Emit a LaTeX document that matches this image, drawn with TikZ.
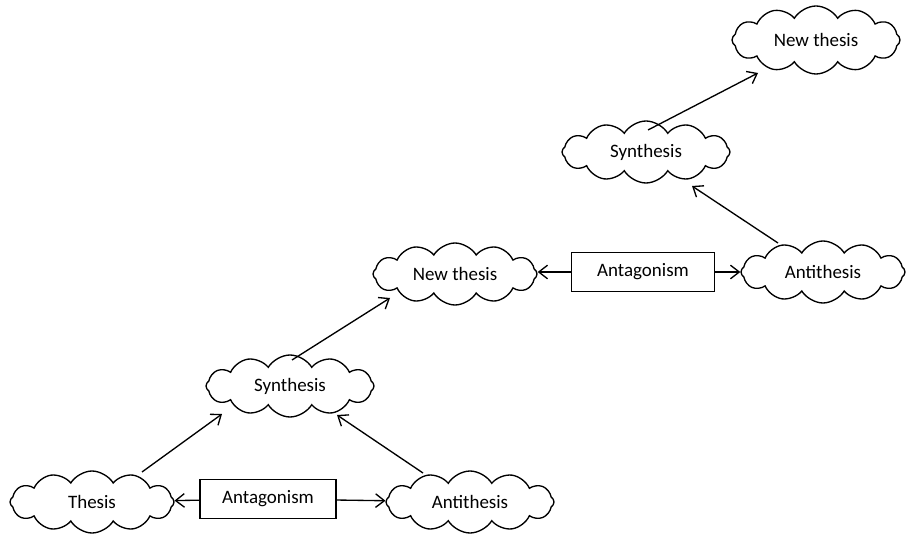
\documentclass[tikz,border=0pt]{standalone}
\usepackage{fontspec}
\setmainfont{Carlito}
\usetikzlibrary{shapes.symbols,arrows.meta,calc}

\begin{document}
\begin{tikzpicture}[
  idea/.style={cloud,cloud puffs=12,cloud puff arc=118,cloud ignores aspect,draw,line width=0.95pt,
    minimum width=4.1cm,minimum height=1.55cm,inner sep=0pt,font=\fontsize{13.5}{16}\selectfont},
  clash/.style={draw,line width=0.95pt,minimum width=3.4cm,minimum height=0.97cm,
    font=\fontsize{13.5}{16}\selectfont},
  link/.style={line width=0.95pt,-{Straight Barb[length=2.2mm,width=3.4mm]}}]
\useasboundingbox (0,0) rectangle (22.7,13.45);

% First round
\node[idea] (thesis) at (2.3,0.9) {Thesis};
\node[idea,minimum width=4.2cm] (anti1) at (11.75,0.9) {Antithesis};
\node[clash] (clash1) at (6.7,0.975) {Antagonism};
\node[idea,minimum width=4.2cm] (syn1) at (7.25,3.8) {Synthesis};

% Second round
\node[idea] (new1) at (11.375,6.6) {New thesis};
\node[clash,minimum width=3.58cm] (clash2) at (16.075,6.65) {Antagonism};
\node[idea] (anti2) at (20.575,6.65) {Antithesis};
\node[idea,minimum width=4.2cm] (syn2) at (16.15,9.65) {Synthesis};
\node[idea,minimum width=4.2cm,minimum height=1.7cm] (new2) at (20.4,12.45) {New thesis};

% Connectors
\draw[link] (clash1) -- (thesis);
\draw[link] (clash1) -- (anti1);
\draw[link] ($(thesis)+(1.25,0.75)$) -- ($(syn1)+(-1.7,-0.7)$);
\draw[link] ($(anti1)+(-1.175,0.725)$) -- ($(syn1)+(1.175,-0.725)$);
\draw[link] ($(syn1)+(0.05,0.65)$) -- ($(new1)+(-1.625,-0.6)$);
\draw[link] (clash2) -- (new1.east |- clash2);
\draw[link] (clash2) -- (anti2.west |- clash2);
\draw[link] ($(anti2)+(-1.125,0.725)$) -- ($(syn2)+(1.15,-0.85)$);
\draw[link] ($(syn2)+(0.05,0.55)$) -- ($(new2)+(-1.45,-0.825)$);

\end{tikzpicture}
\end{document}
